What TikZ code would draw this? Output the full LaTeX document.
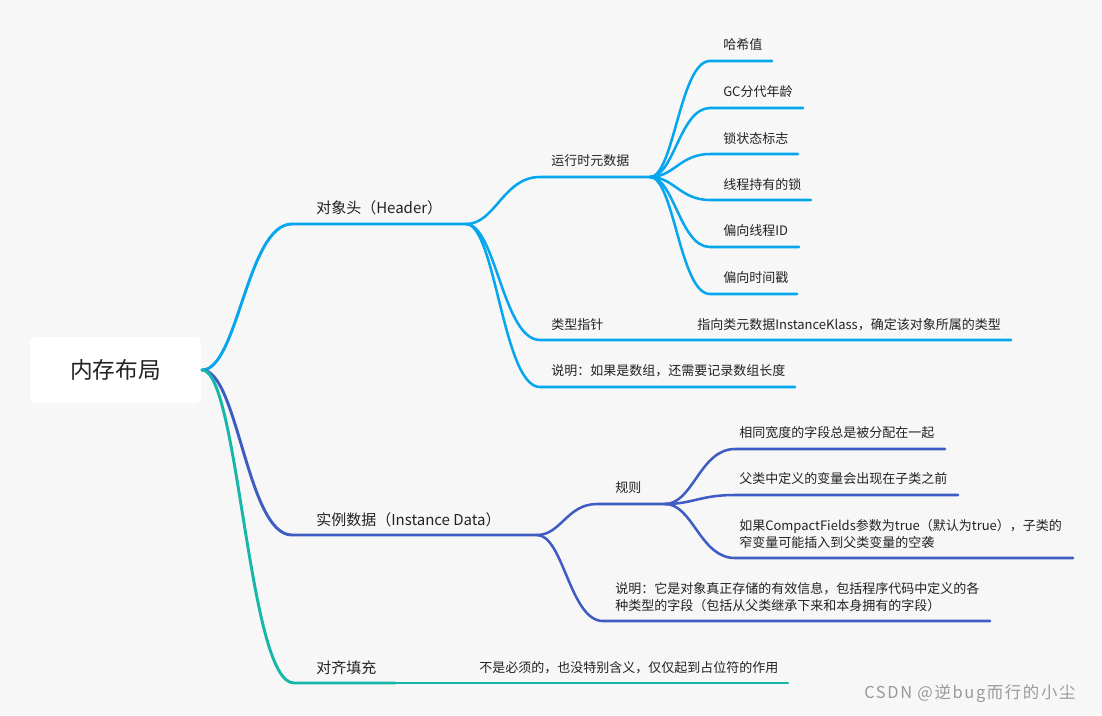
\documentclass[tikz,border=0pt]{standalone}
\usepackage{fontspec}
\setmainfont{Noto Sans CJK SC}
\newfontfamily\wmfont[LetterSpace=10]{Noto Sans CJK SC}
\usetikzlibrary{calc}
\definecolor{bg}{HTML}{F7F7F7}
\definecolor{hdr}{HTML}{06A6EE}
\definecolor{inst}{HTML}{3F5CC4}
\definecolor{pad}{HTML}{16B6A8}
\definecolor{txt}{HTML}{222222}
\definecolor{wm}{HTML}{9A9A9A}
\tikzset{
  br/.style={line cap=round, to path={.. controls ($(\tikztostart)!0.4!(\tikztotarget |- \tikztostart)$) and ($(\tikztotarget)!0.5!(\tikztostart |- \tikztotarget)$) .. (\tikztotarget)}},
  l1/.style={line width=2.2pt, line cap=round},
  l2/.style={line width=1.9pt, line cap=round},
  t1/.style={font=\fontsize{11.25}{13}\selectfont, text=txt, inner sep=0pt, anchor=west},
  t2/.style={font=\fontsize{9.75}{12.75}\selectfont, text=txt, inner sep=0pt, anchor=west, align=left},
  rootbox/.style={fill=white, rounded corners=4pt, minimum width=128.25pt, minimum height=49.5pt, inner sep=0pt, font=\fontsize{17}{20}\selectfont, text=txt},
}
\begin{document}
\begin{tikzpicture}[x=0.75pt,y=-0.75pt]
\fill[bg] (0,0) rectangle (1102,715);
\useasboundingbox (0,0) rectangle (1102,715);

\node[rootbox] (root) at (115.5,370) {内存布局};
\coordinate (R) at (202,370);

% ---------- Header ----------
\coordinate (h-s) at (292,224); \coordinate (h-e) at (466,224);
\node[t1] (h) at (316,208) {对象头（Header）};
\coordinate (rt-s) at (540,177); \coordinate (rt-e) at (650,177);
\node[t2] (rt) at (551,161) {运行时元数据};
\coordinate (c1-s) at (710,61);  \coordinate (c1-e) at (772,61);
\coordinate (c2-s) at (710,108); \coordinate (c2-e) at (803,108);
\coordinate (c3-s) at (710,154); \coordinate (c3-e) at (798,154);
\coordinate (c4-s) at (710,200); \coordinate (c4-e) at (811,200);
\coordinate (c5-s) at (710,247); \coordinate (c5-e) at (799,247);
\coordinate (c6-s) at (710,294); \coordinate (c6-e) at (797,294);
\node[t2] (c1) at (723,45) {哈希值};
\node[t2] (c2) at (723,92) {GC分代年龄};
\node[t2] (c3) at (723,139) {锁状态标志};
\node[t2] (c4) at (723,185) {线程持有的锁};
\node[t2] (c5) at (723,231) {偏向线程ID};
\node[t2] (c6) at (723,278) {偏向时间戳};
\coordinate (tp-s) at (540,340); \coordinate (tp-e) at (697,340); \coordinate (tpc-e) at (1011,340);
\node[t2] (tp) at (551,325) {类型指针};
\node[t2] (tpc) at (697,325) {指向类元数据InstanceKlass，确定该对象所属的类型};
\coordinate (sm-s) at (540,387); \coordinate (sm-e) at (795,387);
\node[t2] (sm) at (551,371) {说明：如果是数组，还需要记录数组长度};

\begin{scope}[draw=hdr]
\draw[l1] (R) to[br] (h-s) -- (h-e);
\draw[l2] (h-e) to[br] (rt-s) -- (rt-e);
\draw[l2] (h-e) to[br] (tp-s) -- (tp-e) -- (tpc-e);
\draw[l2] (h-e) to[br] (sm-s) -- (sm-e);
\foreach \i in {1,...,6} \draw[l2] (rt-e) to[br] (c\i-s) -- (c\i-e);
\end{scope}

% ---------- Instance data ----------
\coordinate (i-s) at (292,535); \coordinate (i-e) at (537,535);
\node[t1] (i) at (316,520) {实例数据（Instance Data）};
\coordinate (gz-s) at (597,504); \coordinate (gz-e) at (665,504);
\node[t2] (gz) at (615,488) {规则};
\coordinate (g1-s) at (735,449); \coordinate (g1-e) at (945,449);
\coordinate (g2-s) at (735,495); \coordinate (g2-e) at (958,495);
\coordinate (g3-s) at (735,558); \coordinate (g3-e) at (1073,558);
\node[t2] (g1) at (739,433) {相同宽度的字段总是被分配在一起};
\node[t2] (g2) at (739,479) {父类中定义的变量会出现在子类之前};
\node[t2] (g3) at (739,533.5) {如果CompactFields参数为true（默认为true），子类的\\窄变量可能插入到父类变量的空袭};
\coordinate (is-s) at (603,621); \coordinate (is-e) at (990,621);
\node[t2] (is) at (615,597.5) {说明：它是对象真正存储的有效信息，包括程序代码中定义的各\\种类型的字段（包括从父类继承下来和本身拥有的字段）};

\begin{scope}[draw=inst]
\draw[l1] (R) to[br] (i-s) -- (i-e);
\draw[l2] (i-e) to[br] (gz-s) -- (gz-e);
\draw[l2] (i-e) to[br] (is-s) -- (is-e);
\foreach \i in {1,2,3} \draw[l2] (gz-e) to[br] (g\i-s) -- (g\i-e);
\end{scope}

% ---------- Padding ----------
\coordinate (p-s) at (294,683); \coordinate (p-e) at (395,683); \coordinate (pc-e) at (788,683);
\node[t1] (p) at (316,668) {对齐填充};
\node[t2] (pc) at (479,668) {不是必须的，也没特别含义，仅仅起到占位符的作用};
\draw[pad, l1] (R) to[br] (p-s) -- (p-e);
\draw[pad, l2] (p-e) -- (pc-e);

% watermark
\node[font=\wmfont\fontsize{12.3}{14}\selectfont, text=wm, inner sep=0pt, anchor=west] (wmk) at (864,694) {CSDN @逆bug而行的小尘};
\end{tikzpicture}
\end{document}
